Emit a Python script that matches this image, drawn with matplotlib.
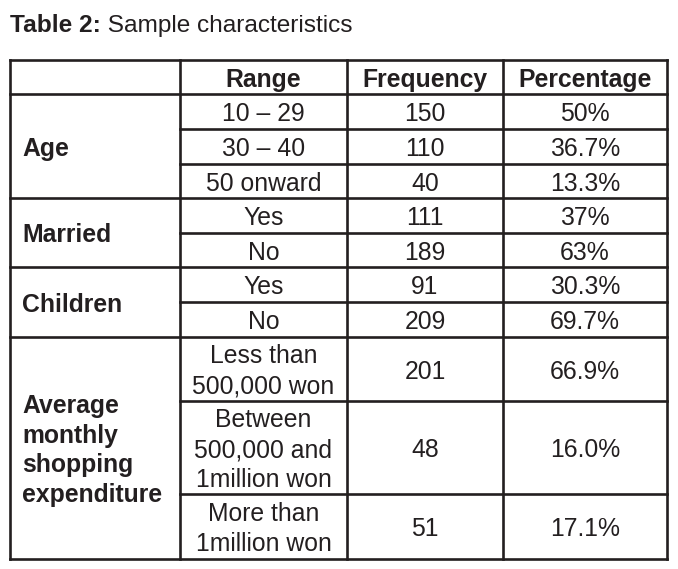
import matplotlib
matplotlib.use('Agg')
import matplotlib.pyplot as plt

plt.rcParams['font.family'] = ['Liberation Sans', 'DejaVu Sans']

# 表格数据
groups = ['Age', 'Married', 'Children', 'Average\nmonthly\nshopping\nexpenditure']
group_sizes = [3, 2, 2, 3]
headers = ['', 'Range', 'Frequency', 'Percentage']
ranges = ['10 – 29', '30 – 40', '50 onward', 'Yes', 'No', 'Yes', 'No',
          'Less than\n500,000 won', 'Between\n500,000 and\n1million won',
          'More than\n1million won']
frequency = [150, 110, 40, 111, 189, 91, 209, 201, 48, 51]
percentage = ['50%', '36.7%', '13.3%', '37%', '63%', '30.3%', '69.7%',
              '66.9%', '16.0%', '17.1%']

# 版面（像素）
col_x = [10, 180, 347, 503, 667]
row_y = [60, 94, 129, 164, 198, 233, 267, 302, 337, 401, 494, 559]
color = '#231f20'
fs = 17.8
dy = 2.5
ls = 1.33

fig = plt.figure(figsize=(6.78, 5.69), dpi=100)
ax = fig.add_axes([0, 0, 1, 1])
ax.set_xlim(0, 678)
ax.set_ylim(569, 0)
ax.axis('off')

# 标题
t1 = ax.text(10, 32, 'Table 2:', fontsize=17.6, fontweight='bold',
             color=color, va='baseline', ha='left')
ax.annotate(' Sample characteristics', xy=(1, 0), xycoords=t1,
            fontsize=17.6, color=color, va='bottom', ha='left')

lw = 1.9
# 外框和竖线
for x in col_x:
    ax.plot([x, x], [row_y[0], row_y[-1]], color=color, lw=lw,
            solid_capstyle='projecting')
ax.plot([col_x[0], col_x[-1]], [row_y[0]] * 2, color=color, lw=lw,
        solid_capstyle='projecting')
ax.plot([col_x[0], col_x[-1]], [row_y[1]] * 2, color=color, lw=lw)

# 表头
for i, h in enumerate(headers):
    cx = (col_x[i] + col_x[i + 1]) / 2
    ax.text(cx, (row_y[0] + row_y[1]) / 2 + dy, h, fontsize=fs,
            fontweight='bold', color=color, ha='center', va='center')

# 各组
r = 0
for g, n in zip(groups, group_sizes):
    top = row_y[1 + r]
    bot = row_y[1 + r + n]
    ax.plot([col_x[0], col_x[-1]], [bot, bot], color=color, lw=lw,
            solid_capstyle='projecting')
    ax.text(col_x[0] + 12, (top + bot) / 2 + dy, g, fontsize=fs,
            fontweight='bold', color=color, ha='left', va='center',
            linespacing=1.29)
    for k in range(n):
        i = r + k
        y0 = row_y[1 + i]
        y1 = row_y[2 + i]
        if k < n - 1:
            ax.plot([col_x[1], col_x[-1]], [y1, y1], color=color, lw=lw)
        cy = (y0 + y1) / 2 + dy
        vals = [ranges[i], str(frequency[i]), percentage[i]]
        for j, v in enumerate(vals):
            cx = (col_x[j + 1] + col_x[j + 2]) / 2
            ax.text(cx, cy, v, fontsize=fs, color=color, ha='center',
                    va='center', linespacing=ls)
    r += n

fig.savefig('out.png', dpi=100)
